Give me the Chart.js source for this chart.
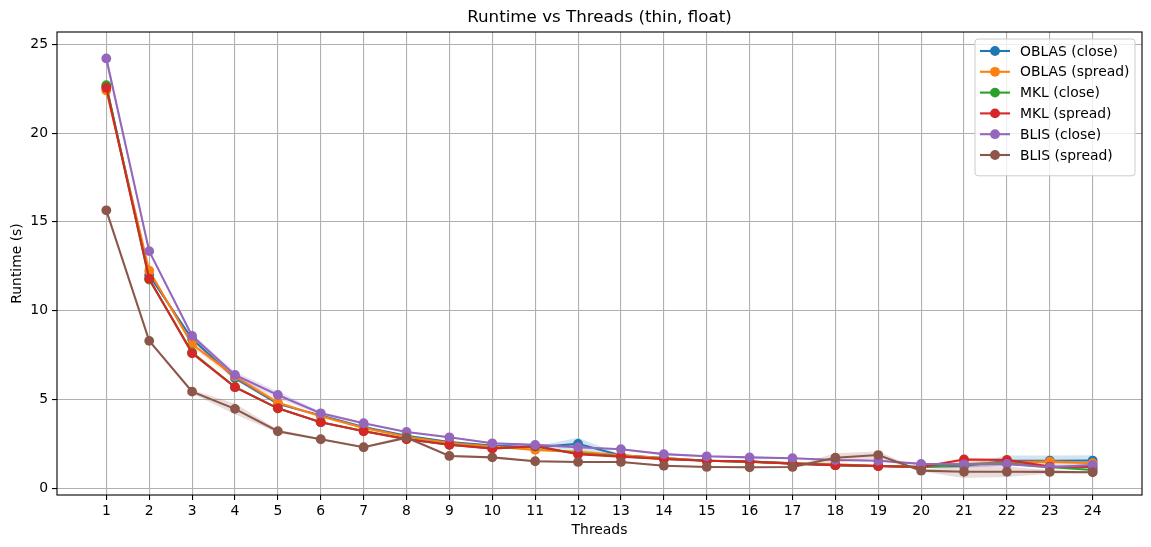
<!DOCTYPE html>
<html>
<head>
<meta charset="utf-8">
<script src="https://cdn.jsdelivr.net/npm/chart.js@4.4.1/dist/chart.umd.min.js"></script>
<style>
  html, body { margin: 0; padding: 0; background: #fff; }
  #wrap { width: 1151px; height: 547px; }
</style>
</head>
<body>
<div id="wrap"><canvas id="chart" width="1151" height="547"></canvas></div>
<script>
// thread counts on the x axis
const threads = [1, 2, 3, 4, 5, 6, 7, 8, 9, 10, 11, 12, 13, 14, 15, 16, 17, 18, 19, 20, 21, 22, 23, 24]
const yTicks = [0, 5, 10, 15, 20, 25]

// mean runtimes (s)
const oblasClose  = [22.6, 12.0, 8.4, 6.2, 4.75, 4.1, 3.45, 2.95, 2.6, 2.4, 2.3, 2.5, 1.85, 1.7, 1.55, 1.5, 1.4, 1.3, 1.25, 1.2, 1.25, 1.55, 1.55, 1.56]
const oblasSpread = [22.4, 12.25, 8.1, 6.3, 4.82, 4.05, 3.4, 2.9, 2.55, 2.35, 2.16, 2.05, 1.85, 1.7, 1.55, 1.5, 1.4, 1.35, 1.25, 1.2, 1.35, 1.45, 1.5, 1.41]
const mklClose    = [22.7, 11.75, 7.65, 5.7, 4.5, 3.72, 3.22, 2.78, 2.45, 2.25, 2.35, 1.95, 1.8, 1.65, 1.55, 1.5, 1.4, 1.3, 1.25, 1.2, 1.35, 1.4, 1.2, 1.03]
const mklSpread   = [22.55, 11.8, 7.6, 5.69, 4.5, 3.72, 3.21, 2.76, 2.45, 2.23, 2.38, 1.91, 1.78, 1.65, 1.55, 1.5, 1.38, 1.3, 1.25, 1.2, 1.62, 1.59, 1.22, 1.2]
const blisClose   = [24.2, 13.35, 8.58, 6.38, 5.25, 4.22, 3.66, 3.17, 2.87, 2.53, 2.44, 2.31, 2.2, 1.92, 1.8, 1.74, 1.69, 1.59, 1.55, 1.37, 1.35, 1.37, 1.18, 1.31]
const blisSpread  = [15.65, 8.3, 5.44, 4.47, 3.21, 2.76, 2.31, 2.85, 1.82, 1.74, 1.52, 1.48, 1.48, 1.27, 1.2, 1.18, 1.2, 1.72, 1.87, 0.99, 0.93, 0.93, 0.92, 0.9]

// spread (std) around each mean, drawn as shaded bands
const oblasCloseStd  = [0.1, 0.1, 0.1, 0.1, 0.05, 0.05, 0.05, 0.05, 0.05, 0.05, 0.05, 0.35, 0.05, 0.05, 0.05, 0.05, 0.05, 0.05, 0.05, 0.05, 0.1, 0.3, 0.3, 0.3]
const oblasSpreadStd = [0.1, 0.1, 0.15, 0.2, 0.1, 0.05, 0.05, 0.05, 0.05, 0.05, 0.05, 0.1, 0.05, 0.05, 0.05, 0.05, 0.05, 0.05, 0.05, 0.05, 0.2, 0.15, 0.1, 0.1]
const mklCloseStd    = [0.1, 0.1, 0.05, 0.05, 0.05, 0.05, 0.05, 0.05, 0.05, 0.05, 0.05, 0.05, 0.05, 0.05, 0.05, 0.05, 0.05, 0.05, 0.05, 0.05, 0.1, 0.1, 0.1, 0.05]
const mklSpreadStd   = [0.1, 0.1, 0.05, 0.05, 0.05, 0.05, 0.05, 0.05, 0.05, 0.05, 0.05, 0.05, 0.05, 0.05, 0.05, 0.05, 0.05, 0.05, 0.05, 0.05, 0.1, 0.1, 0.05, 0.05]
const blisCloseStd   = [0.3, 0.1, 0.1, 0.2, 0.2, 0.1, 0.05, 0.05, 0.05, 0.05, 0.05, 0.05, 0.05, 0.05, 0.05, 0.05, 0.05, 0.05, 0.05, 0.05, 0.05, 0.05, 0.05, 0.05]
const blisSpreadStd  = [0.1, 0.1, 0.1, 0.3, 0.1, 0.05, 0.05, 0.1, 0.05, 0.05, 0.05, 0.05, 0.05, 0.05, 0.05, 0.05, 0.05, 0.25, 0.2, 0.05, 0.35, 0.3, 0.1, 0.05]

const series = [
    { label: "OBLAS (close)",  color: "#1f77b4", rgb: "31,119,180",  mean: oblasClose,  std: oblasCloseStd },
    { label: "OBLAS (spread)", color: "#ff7f0e", rgb: "255,127,14",  mean: oblasSpread, std: oblasSpreadStd },
    { label: "MKL (close)",    color: "#2ca02c", rgb: "44,160,44",   mean: mklClose,    std: mklCloseStd },
    { label: "MKL (spread)",   color: "#d62728", rgb: "214,39,40",   mean: mklSpread,   std: mklSpreadStd },
    { label: "BLIS (close)",   color: "#9467bd", rgb: "148,103,189", mean: blisClose,   std: blisCloseStd },
    { label: "BLIS (spread)",  color: "#8c564b", rgb: "140,86,75",   mean: blisSpread,  std: blisSpreadStd }
]

const FONT = "'DejaVu Sans', sans-serif"
const n = series.length
const MARKER_R = 4.9

// build datasets: band low, band high (filled to low), then the line itself
const datasets = []
series.forEach((s, i) => {
    const lowIdx = datasets.length
    // later series sit on top like matplotlib
    const layer = (n - i) * 10
    datasets.push({
        label: "_lo", data: threads.map((t, k) => ({ x: t, y: s.mean[k] - s.std[k] })),
        borderWidth: 0, pointRadius: 0, fill: false, order: layer + 2
    })
    datasets.push({
        label: "_hi", data: threads.map((t, k) => ({ x: t, y: s.mean[k] + s.std[k] })),
        borderWidth: 0, pointRadius: 0, fill: { target: lowIdx },
        backgroundColor: "rgba(" + s.rgb + ",0.2)", order: layer + 1
    })
    datasets.push({
        label: s.label, data: threads.map((t, k) => ({ x: t, y: s.mean[k] })),
        borderColor: s.color, backgroundColor: s.color,
        borderWidth: 2.1, pointRadius: MARKER_R, pointBorderWidth: 0,
        pointBackgroundColor: s.color, fill: false, tension: 0, order: layer
    })
})

// frame around the plot + title + legend, matplotlib style
const mplDecor = {
    id: "mplDecor",
    afterDraw(chart) {
        const { ctx, chartArea: a } = chart
        ctx.save()
        ctx.strokeStyle = "#000"
        ctx.lineWidth = 1.1
        ctx.strokeRect(a.left, a.top, a.right - a.left, a.bottom - a.top)

        ctx.fillStyle = "#000"
        ctx.font = "16.7px " + FONT
        ctx.textAlign = "center"
        ctx.textBaseline = "middle"
        ctx.fillText("Runtime vs Threads (thin, float)", (a.left + a.right) / 2, 18)

        // legend box, upper right
        const bw = 160, rowH = 20.8
        const bh = rowH * n + 12
        const bx = a.right - 7 - bw, by = a.top + 7
        ctx.beginPath()
        ctx.roundRect(bx, by, bw, bh, 3)
        ctx.fillStyle = "rgba(255,255,255,0.8)"
        ctx.fill()
        ctx.strokeStyle = "#cccccc"
        ctx.lineWidth = 1
        ctx.stroke()
        ctx.font = "13.9px " + FONT
        ctx.textAlign = "left"
        series.forEach((s, i) => {
            const cy = by + 12 + rowH * i
            ctx.strokeStyle = s.color
            ctx.lineWidth = 2.1
            ctx.beginPath()
            ctx.moveTo(bx + 5, cy)
            ctx.lineTo(bx + 35, cy)
            ctx.stroke()
            ctx.fillStyle = s.color
            ctx.beginPath()
            ctx.arc(bx + 20, cy, MARKER_R, 0, Math.PI * 2)
            ctx.fill()
            ctx.fillStyle = "#000"
            ctx.fillText(s.label, bx + 45, cy + 1)
        })
        ctx.restore()
    }
}

const ctx = document.getElementById("chart").getContext("2d")
new Chart(ctx, {
    type: "line",
    data: { datasets },
    options: {
        responsive: false,
        animation: false,
        layout: { padding: { left: 0, top: 32, right: 9, bottom: 0 } },
        plugins: {
            legend: { display: false },
            tooltip: { enabled: false },
            title: { display: false },
            filler: { propagate: false }
        },
        scales: {
            x: {
                type: "linear", min: -0.15, max: 25.15,
                afterBuildTicks: (scale) => { scale.ticks = threads.map(v => ({ value: v })) },
                afterFit: (scale) => { scale.height = 52 },
                ticks: { color: "#000", font: { family: FONT, size: 13.9 }, padding: 3, maxRotation: 0, autoSkip: false },
                grid: { color: "#b0b0b0", lineWidth: 1.1, tickColor: "#000", tickLength: 5, drawTicks: true },
                border: { display: false },
                title: { display: true, text: "Threads", color: "#000", font: { family: FONT, size: 13.9 }, padding: { top: 0, bottom: 8 } }
            },
            y: {
                type: "linear", min: -0.38, max: 25.69,
                afterBuildTicks: (scale) => { scale.ticks = yTicks.map(v => ({ value: v })) },
                afterFit: (scale) => { scale.width = 57 },
                ticks: { color: "#000", font: { family: FONT, size: 13.9 }, padding: 4 },
                grid: { color: "#b0b0b0", lineWidth: 1.1, tickColor: "#000", tickLength: 5 },
                border: { display: false },
                title: { display: true, text: "Runtime (s)", color: "#000", font: { family: FONT, size: 13.9 }, padding: { top: 9, bottom: 0 } }
            }
        }
    },
    plugins: [mplDecor]
})
</script>
</body>
</html>
